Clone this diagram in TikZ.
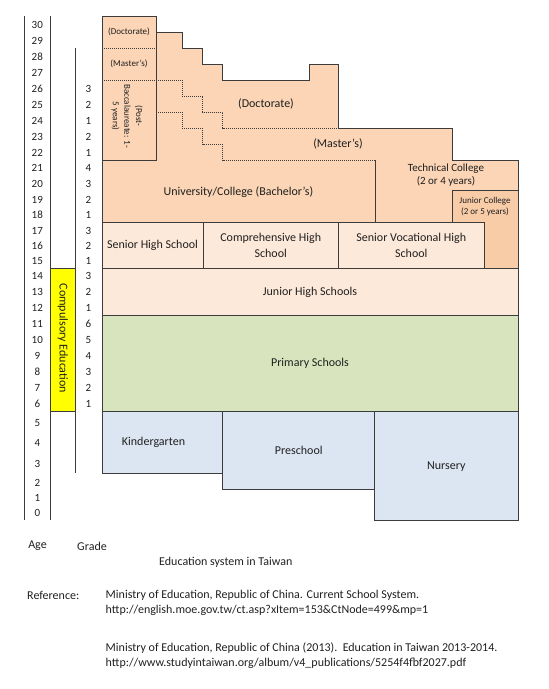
\documentclass[tikz,border=0pt]{standalone}
\usepackage{fontspec}
\setmainfont{Carlito}
\usepackage{tikz}

\definecolor{peach}{HTML}{FBD5B5}
\definecolor{peachdark}{HTML}{F9CCA8}
\definecolor{peachlight}{HTML}{FDE9D9}
\definecolor{olivelight}{HTML}{D7E4BD}
\definecolor{bluelight}{HTML}{DCE6F2}
\definecolor{compyellow}{HTML}{FFFF00}
\definecolor{edge}{HTML}{3C3C3C}
\definecolor{ink}{HTML}{202020}

\tikzset{
  box/.style={draw=edge, line width=0.9pt},
  sepline/.style={draw=edge, line width=0.9pt, dash pattern=on 1pt off 1pt},
  axisline/.style={draw=edge, line width=0.8pt},
  lbl/.style={text=ink, font=\fontsize{12}{16.5}\selectfont, align=center, inner sep=0pt},
  mid/.style={text=ink, font=\fontsize{11}{13.4}\selectfont, align=center, inner sep=0pt},
  small/.style={text=ink, font=\fontsize{9}{11.6}\selectfont, align=center, inner sep=0pt},
  num/.style={text=ink, font=\fontsize{11}{13}\selectfont, inner sep=0pt},
}

\begin{document}
\begin{tikzpicture}[x=1pt,y=-1pt]
\useasboundingbox (0,0) rectangle (549,689);

%% Higher education (orange block)
\fill[peach] (102,16)--(156,16)--(156,32.3)--(182.7,32.3)--(182.7,48.3)--(202.7,48.3)--(202.7,64)
  --(222.7,64)--(222.7,80)--(309,80)--(309,64)--(338.7,64)--(338.7,128)--(452.7,128)
  --(452.7,160.3)--(518,160.3)--(518,268)--(102,268)--cycle;
\draw[box] (102,222.5)--(102,16)--(156,16)--(156,32.3)--(182.7,32.3)--(182.7,48.3)--(202.7,48.3)--(202.7,64)
  --(222.7,64)--(222.7,80)--(309,80)--(309,64)--(338.7,64)--(338.7,128)--(452.7,128)
  --(452.7,160.3)--(518,160.3)--(518,268);
\draw[box] (102,16) rectangle (156,160);
\draw[box] (375,160.3)--(375,222.5);
\draw[box, fill=peachdark] (452.7,190.7) rectangle (518,268);

%% Dotted borders between degrees
\draw[sepline] (102,48.3)--(156,48.3);
\draw[sepline] (102,80)--(182,80)--(182,96)--(202.7,96)--(202.7,112.3)--(222.7,112.3)--(222.7,128)--(338.7,128);
\draw[sepline] (156,112.3)--(182,112.3)--(182,128)--(202.7,128)--(202.7,144)--(222.7,144)--(222.7,160)--(375,160);

%% Secondary and primary
\draw[box, fill=peachlight] (102,222.5) rectangle (203,268);
\draw[box, fill=peachlight] (203,222.5) rectangle (338.3,268);
\draw[box, fill=peachlight] (338.3,222.5) rectangle (484.3,268);
\draw[box, fill=peachlight] (102,268) rectangle (518,315);
\draw[box, fill=olivelight] (102,315) rectangle (518,411);

%% Pre-school
\draw[box, fill=bluelight] (102,411) rectangle (222.7,473.3);
\draw[box, fill=bluelight] (222.7,411) rectangle (374.3,489.3);
\draw[box, fill=bluelight] (374.3,411) rectangle (518.3,520);

%% Age and grade scales
\draw[box, fill=compyellow] (50,268.3) rectangle (75.3,411);
\draw[axisline] (24.3,16)--(24.3,520);
\draw[axisline] (50,16)--(50,520);
\draw[axisline] (75.3,48.3)--(75.3,473.3);
\node[lbl, rotate=-90] (compulsory) at (62.7,338.3) {Compulsory Education};

%% Box labels
\node[small] (docleft) at (129,32) {(Doctorate)};
\node[small] (masleft) at (129,64) {(Master's)};
\node[small, rotate=-90] (postbac) at (127,116) {(Post-\\Baccalaureate: 1-\\5 years)};
\node[lbl] (doctorate) at (266,104) {(Doctorate)};
\node[lbl] (masters) at (338,144) {(Master's)};
\node[lbl] (university) at (238.5,191.7) {University/College (Bachelor's)};
\node[mid] (technical) at (446,175) {Technical College\\(2 or 4 years)};
\node[small] (juniorcol) at (485,206.5) {Junior College\\(2 or 5 years)};
\node[lbl] (seniorhigh) at (152.5,245.3) {Senior High School};
\node[lbl] (comprehensive) at (270.7,245.5) {Comprehensive High\\School};
\node[lbl] (vocational) at (411.3,245.5) {Senior Vocational High\\School};
\node[lbl] (juniorhigh) at (310,292) {Junior High Schools};
\node[lbl] (primary) at (310,363) {Primary Schools};
\node[lbl] (kindergarten) at (153.5,442) {Kindergarten};
\node[lbl] (preschool) at (298.8,450) {Preschool};
\node[lbl] (nursery) at (446.3,466.7) {Nursery};

%% Ages
\node[num] (age30) at (37.3,25) {30};
\node[num] (age29) at (37.3,41) {29};
\node[num] (age28) at (37.3,57) {28};
\node[num] (age27) at (37.3,73) {27};
\node[num] (age26) at (37.3,89) {26};
\node[num] (age25) at (37.3,105) {25};
\node[num] (age24) at (37.3,121) {24};
\node[num] (age23) at (37.3,137) {23};
\node[num] (age22) at (37.3,153) {22};
\node[num] (age21) at (37.3,168) {21};
\node[num] (age20) at (37.3,184) {20};
\node[num] (age19) at (37.3,200) {19};
\node[num] (age18) at (37.3,215) {18};
\node[num] (age17) at (37.3,230.7) {17};
\node[num] (age16) at (37.3,245.5) {16};
\node[num] (age15) at (37.3,261) {15};
\node[num] (age14) at (37.3,276) {14};
\node[num] (age13) at (37.3,292) {13};
\node[num] (age12) at (37.3,308) {12};
\node[num] (age11) at (37.3,324) {11};
\node[num] (age10) at (37.3,340) {10};
\node[num] (age9) at (37.3,356) {9};
\node[num] (age8) at (37.3,372) {8};
\node[num] (age7) at (37.3,388) {7};
\node[num] (age6) at (37.3,404) {6};
\node[num] (age5) at (37.3,422.7) {5};
\node[num] (age4) at (37.3,443.3) {4};
\node[num] (age3) at (37.3,464) {3};
\node[num] (age2) at (37.3,482.7) {2};
\node[num] (age1) at (37.3,497.7) {1};
\node[num] (age0) at (37.3,513.3) {0};

%% Grades
\node[num] (gradeD3) at (88.3,89) {3};
\node[num] (gradeD2) at (88.3,105) {2};
\node[num] (gradeD1) at (88.3,121) {1};
\node[num] (gradeM2) at (88.3,137) {2};
\node[num] (gradeM1) at (88.3,153) {1};
\node[num] (gradeU4) at (88.3,168) {4};
\node[num] (gradeU3) at (88.3,184) {3};
\node[num] (gradeU2) at (88.3,200) {2};
\node[num] (gradeU1) at (88.3,215) {1};
\node[num] (gradeS3) at (88.3,230.7) {3};
\node[num] (gradeS2) at (88.3,245.5) {2};
\node[num] (gradeS1) at (88.3,261) {1};
\node[num] (gradeJ3) at (88.3,276) {3};
\node[num] (gradeJ2) at (88.3,292) {2};
\node[num] (gradeJ1) at (88.3,308) {1};
\node[num] (gradeP6) at (88.3,324) {6};
\node[num] (gradeP5) at (88.3,340) {5};
\node[num] (gradeP4) at (88.3,356) {4};
\node[num] (gradeP3) at (88.3,372) {3};
\node[num] (gradeP2) at (88.3,388) {2};
\node[num] (gradeP1) at (88.3,404) {1};

%% Footer
\node[lbl] (agehead) at (37.5,546) {Age};
\node[lbl] (gradehead) at (92,546) {Grade};
\node[lbl] (caption) at (225.8,562.3) {Education system in Taiwan};
\node[lbl, anchor=west] (reflabel) at (27,595) {Reference:};
\node[lbl, anchor=west] (refone) at (105.5,595) {Ministry of Education, Republic of China. Current School System.};
\node[lbl, anchor=west] (urlone) at (105.5,610.5) {http://english.moe.gov.tw/ct.asp?xItem=153\&CtNode=499\&mp=1};
\node[lbl, anchor=west] (reftwo) at (105.5,648) {Ministry of Education, Republic of China (2013).\ \ Education in Taiwan 2013-2014.};
\node[lbl, anchor=west] (urltwo) at (105.5,663.5) {http://www.studyintaiwan.org/album/v4\_publications/5254f4fbf2027.pdf};
\end{tikzpicture}
\end{document}
